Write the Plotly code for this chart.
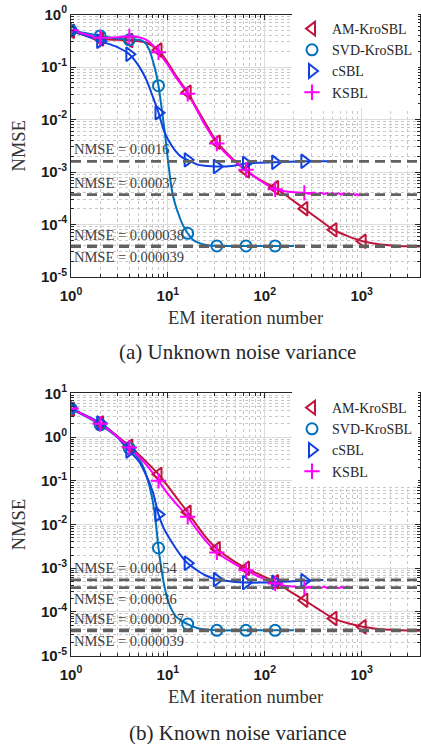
import math
import plotly.graph_objects as go

# ---------------- data ----------------
series_names = ["AM-KroSBL", "SVD-KroSBL", "cSBL", "KSBL"]

# Panel (a): unknown noise variance
a_am_x = [1, 2, 3, 4, 5, 6, 7, 8, 10, 12, 16, 20, 24, 32, 45, 64, 90, 128, 180, 256, 360, 512, 720, 1024, 1500, 2000, 3000, 4000]
a_am_y = [0.48, 0.34, 0.33, 0.32, 0.31, 0.29, 0.25, 0.21, 0.12, 0.07, 0.033, 0.016, 0.009, 0.0037, 0.0019, 0.00105, 0.0007, 0.0005, 0.00032, 0.0002, 0.000126, 7.9e-5, 6.0e-5, 4.8e-5, 4.2e-5, 4.0e-5, 3.85e-5, 3.8e-5]

a_svd_x = [1, 2, 3, 4, 5, 5.5, 6, 6.5, 7, 7.5, 8, 8.5, 9, 9.5, 10, 11, 12, 13, 14, 16, 18, 20, 24, 32, 64, 128, 200]
a_svd_y = [0.5, 0.39, 0.35, 0.33, 0.33, 0.31, 0.27, 0.2, 0.13, 0.08, 0.044, 0.02, 0.009, 0.004, 0.0017, 0.00045, 0.00023, 0.00015, 0.000105, 6.8e-5, 5.2e-5, 4.6e-5, 4.1e-5, 3.9e-5, 3.9e-5, 3.9e-5, 3.9e-5]

a_csbl_x = [1, 2, 3, 4, 5, 6, 7, 8, 9, 10, 12, 14, 16, 20, 24, 32, 45, 64, 90, 128, 180, 256, 360, 500]
a_csbl_y = [0.5, 0.31, 0.24, 0.175, 0.105, 0.057, 0.027, 0.0135, 0.0065, 0.0042, 0.0025, 0.0019, 0.0017, 0.0014, 0.00132, 0.00127, 0.0013, 0.00146, 0.0015, 0.00153, 0.00157, 0.0016, 0.0016, 0.0016]

a_ksbl_x = [1, 2, 3, 4, 5, 6, 7, 8, 10, 12, 16, 20, 24, 32, 45, 64, 90, 128, 160, 200, 256, 290, 320, 350, 380, 410, 440, 470, 500, 540, 580, 620, 660, 700, 740, 780, 820, 860, 900, 940, 980]
a_ksbl_y = [0.5, 0.36, 0.37, 0.38, 0.37, 0.33, 0.26, 0.19, 0.11, 0.065, 0.031, 0.015, 0.008, 0.0035, 0.0018, 0.0011, 0.00068, 0.00047, 0.00043, 0.00041, 0.0004, 0.000385, 0.000405, 0.00038, 0.000402, 0.000378, 0.0004, 0.000372, 0.000398, 0.000376, 0.000395, 0.00037, 0.000392, 0.000368, 0.00039, 0.000365, 0.000385, 0.000362, 0.000382, 0.00036, 0.000375]

a_ref_vals = [0.0016, 0.00037, 0.000038, 0.000039]
a_ref_text = ["NMSE = 0.0016", "NMSE = 0.00037", "NMSE = 0.000038", "NMSE = 0.000039"]
a_ref_side = ["above", "above", "above", "below"]

# Panel (b): known noise variance
b_am_x = [1, 2, 3, 4, 5, 6, 8, 10, 12, 16, 20, 24, 32, 45, 64, 90, 128, 180, 256, 360, 512, 720, 1024, 1500, 2000, 3000, 4000]
b_am_y = [4.3, 2.1, 1.05, 0.62, 0.4, 0.27, 0.14, 0.075, 0.044, 0.019, 0.0095, 0.0055, 0.0028, 0.0016, 0.001, 0.0007, 0.00049, 0.0003, 0.000186, 0.000115, 7.1e-5, 5.5e-5, 4.6e-5, 4.1e-5, 3.9e-5, 3.75e-5, 3.7e-5]

b_svd_x = [1, 2, 3, 4, 4.5, 5, 5.5, 6, 6.5, 7, 7.5, 8, 8.5, 9, 10, 11, 12, 14, 16, 20, 24, 32, 64, 128, 200]
b_svd_y = [4.5, 1.9, 1.0, 0.55, 0.43, 0.32, 0.22, 0.13, 0.07, 0.033, 0.011, 0.0029, 0.0011, 0.0005, 0.00018, 0.00011, 8e-5, 6.2e-5, 5.3e-5, 4.3e-5, 4.0e-5, 3.8e-5, 3.8e-5, 3.8e-5, 3.8e-5]

b_csbl_x = [1, 2, 3, 4, 5, 6, 7, 8, 9, 10, 12, 14, 16, 20, 24, 32, 45, 64, 90, 128, 180, 256, 400]
b_csbl_y = [4.5, 2.1, 1.0, 0.48, 0.28, 0.13, 0.055, 0.017, 0.0085, 0.0055, 0.0029, 0.0018, 0.0013, 0.0009, 0.0007, 0.00055, 0.0005, 0.00047, 0.00047, 0.00048, 0.0005, 0.00052, 0.00054]

b_ksbl_x = [1, 2, 3, 4, 5, 6, 8, 10, 12, 16, 20, 24, 32, 45, 64, 90, 128, 160, 200, 256, 290, 320, 350, 380, 410, 440, 470, 500, 540, 580, 620, 660, 700, 740, 780, 800]
b_ksbl_y = [4.5, 2.0, 1.02, 0.58, 0.36, 0.23, 0.1, 0.05, 0.031, 0.015, 0.0075, 0.0045, 0.0023, 0.0014, 0.0009, 0.00062, 0.00045, 0.0004, 0.00038, 0.00036, 0.000375, 0.000352, 0.000372, 0.000355, 0.000376, 0.000352, 0.00037, 0.000354, 0.000374, 0.00035, 0.00037, 0.000355, 0.000375, 0.000352, 0.000368, 0.000358]

b_ref_vals = [0.00054, 0.00036, 0.000037, 0.000039]
b_ref_text = ["NMSE = 0.00054", "NMSE = 0.00036", "NMSE = 0.000037", "NMSE = 0.000039"]
b_ref_side = ["above", "below", "above", "below"]

# iterations carrying a marker
marker_iters = {
    "AM-KroSBL": [1, 2, 4, 8, 16, 32, 64, 128, 256, 512, 1024],
    "SVD-KroSBL": [1, 2, 4, 8, 16, 32, 64, 128],
    "cSBL": [1, 2, 4, 8, 16, 32, 64, 128, 256],
    "KSBL": [1, 2, 4, 8, 16, 32, 64, 128, 256],
}

x_ticks = [1, 10, 100, 1000]
x_ticktext = ["10<sup>0</sup>", "10<sup>1</sup>", "10<sup>2</sup>", "10<sup>3</sup>"]
a_y_ticks = [1e-5, 1e-4, 1e-3, 1e-2, 1e-1, 1]
a_y_ticktext = ["10<sup>-5</sup>", "10<sup>-4</sup>", "10<sup>-3</sup>", "10<sup>-2</sup>", "10<sup>-1</sup>", "10<sup>0</sup>"]
b_y_ticks = [1e-5, 1e-4, 1e-3, 1e-2, 1e-1, 1, 10]
b_y_ticktext = a_y_ticktext + ["10<sup>1</sup>"]

captions = ["(a) Unknown noise variance", "(b) Known noise variance"]

# ---------------- styling ----------------
W, H = 421, 744
colors = {"AM-KroSBL": "#C0143C", "SVD-KroSBL": "#0072BD", "cSBL": "#1040E0", "KSBL": "#FF00FF"}
symbols = {"AM-KroSBL": "triangle-left-open", "SVD-KroSBL": "circle-open",
           "cSBL": "triangle-right-open", "KSBL": "cross-thin-open"}
msizes = {"AM-KroSBL": 12, "SVD-KroSBL": 11, "cSBL": 12, "KSBL": 11}
serif = "Liberation Serif"
sans = "Liberation Sans"

L_PX, R_PX = 71, 420
panels_px = [(14.5, 277.0), (393.3, 655.7)]


def ydom(top, bot):
    return [1 - bot / H, 1 - top / H]


fig = go.Figure()

panels = [
    dict(data={"AM-KroSBL": (a_am_x, a_am_y), "SVD-KroSBL": (a_svd_x, a_svd_y),
               "cSBL": (a_csbl_x, a_csbl_y), "KSBL": (a_ksbl_x, a_ksbl_y)},
         refs=(a_ref_vals, a_ref_text, a_ref_side), yt=(a_y_ticks, a_y_ticktext), yr=[-5, 0]),
    dict(data={"AM-KroSBL": (b_am_x, b_am_y), "SVD-KroSBL": (b_svd_x, b_svd_y),
               "cSBL": (b_csbl_x, b_csbl_y), "KSBL": (b_ksbl_x, b_ksbl_y)},
         refs=(b_ref_vals, b_ref_text, b_ref_side), yt=(b_y_ticks, b_y_ticktext), yr=[-5, 1]),
]

annotations = []
shapes = []
for i, p in enumerate(panels):
    xa = "x" if i == 0 else "x2"
    ya = "y" if i == 0 else "y2"
    leg = "legend" if i == 0 else "legend2"
    for name in series_names:
        xs, ys = p["data"][name]
        fig.add_trace(go.Scatter(x=xs, y=ys, mode="lines", xaxis=xa, yaxis=ya,
                                 line=dict(color=colors[name], width=2, shape="spline", smoothing=0.6),
                                 showlegend=False, hoverinfo="skip"))
    for name in series_names:
        xs, ys = p["data"][name]
        mx = [v for v in marker_iters[name] if v in xs]
        my = [ys[xs.index(v)] for v in mx]
        fig.add_trace(go.Scatter(x=mx, y=my, mode="markers", xaxis=xa, yaxis=ya, name=name,
                                 legend=leg,
                                 marker=dict(symbol=symbols[name], size=msizes[name], color=colors[name],
                                             line=dict(width=2, color=colors[name]))))
    vals, texts, sides = p["refs"]
    for v, t, s in zip(vals, texts, sides):
        shapes.append(dict(type="line", xref=f"{xa} domain", yref=ya, x0=0, x1=1, y0=v, y1=v,
                           line=dict(color="#616161", width=2.8, dash="10px,6px"), layer="above"))
        # annotation positions on log axes are given in log10 units
        annotations.append(dict(x=0, xref=f"{xa} domain", y=math.log10(v), yref=ya, text=t, showarrow=False,
                                xanchor="left", yanchor="bottom" if s == "above" else "top",
                                xshift=1, yshift=2 if s == "above" else -1,
                                font=dict(family=serif, size=14.5, color="#404040")))

axis_common = dict(type="log", showline=True, linecolor="#262626", linewidth=1, mirror="allticks",
                   ticks="inside", ticklen=5, tickcolor="#262626", showgrid=True, gridcolor="#DCDCDC",
                   gridwidth=1, zeroline=False, automargin=False,
                   tickfont=dict(family=sans, size=15, color="#1a1a1a", weight="bold"),
                   minor=dict(ticks="inside", ticklen=3, tickcolor="#262626", showgrid=True,
                              gridcolor="#C8C8C8", griddash="dot", gridwidth=1, dtick="D1"))

xtitle = dict(text="EM iteration number", font=dict(family=serif, size=18.5, color="#333333"), standoff=8)
ytitle = dict(text="NMSE", font=dict(family=serif, size=18.5, color="#333333"), standoff=10)

leg_x = (292 - L_PX) / (R_PX - L_PX)
leg_font = dict(family=serif, size=14, color="#262626")

fig.update_layout(
    width=W, height=H, margin=dict(l=L_PX, r=W - R_PX, t=0, b=0),
    paper_bgcolor="white", plot_bgcolor="white",
    xaxis=dict(axis_common, domain=[0, 1], anchor="y", range=[0, 3.602], ticklabelstandoff=5,
               tickvals=x_ticks, ticktext=x_ticktext, title=xtitle),
    yaxis=dict(axis_common, domain=ydom(*panels_px[0]), anchor="x", range=panels[0]["yr"],
               tickvals=panels[0]["yt"][0], ticktext=panels[0]["yt"][1], title=ytitle),
    xaxis2=dict(axis_common, domain=[0, 1], anchor="y2", range=[0, 3.602], ticklabelstandoff=5,
                tickvals=x_ticks, ticktext=x_ticktext, title=xtitle),
    yaxis2=dict(axis_common, domain=ydom(*panels_px[1]), anchor="x2", range=panels[1]["yr"],
                tickvals=panels[1]["yt"][0], ticktext=panels[1]["yt"][1], title=ytitle),
    legend=dict(x=leg_x, y=1 - 13 / H, xanchor="left", yanchor="top",
                bgcolor="white", borderwidth=0, font=leg_font, itemsizing="trace"),
    legend2=dict(x=leg_x, y=1 - 392 / H, xanchor="left", yanchor="top",
                 bgcolor="white", borderwidth=0, font=leg_font, itemsizing="trace"),
    showlegend=True,
    shapes=shapes,
)

cap_y = [352, 733]
for c, cy in zip(captions, cap_y):
    annotations.append(dict(x=(237.5 - L_PX) / (R_PX - L_PX), xref="paper", y=1 - cy / H, yref="paper",
                            text=c, showarrow=False, xanchor="center", yanchor="middle",
                            font=dict(family=serif, size=21, color="#262626")))
fig.update_layout(annotations=annotations)

fig.write_html("out.html")
